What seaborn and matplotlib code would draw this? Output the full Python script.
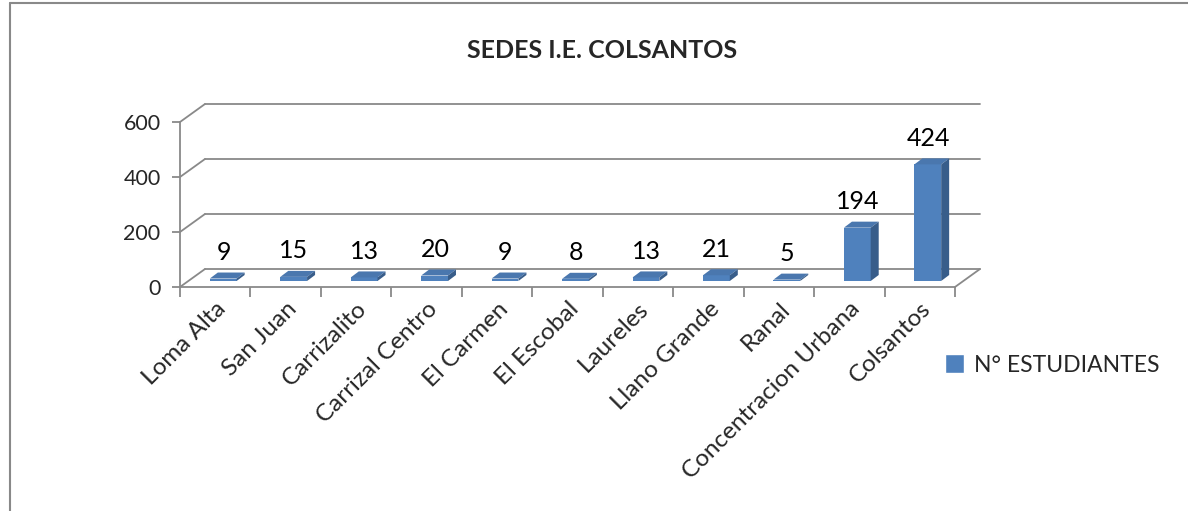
import matplotlib.pyplot as plt
import matplotlib.transforms as mtransforms
from matplotlib.patches import Polygon, Patch
import pandas as pd
import seaborn as sns

sns.set_style("white")
plt.rcParams["font.family"] = ["Lato", "DejaVu Sans"]

sedes = ["Loma Alta", "San Juan", "Carrizalito", "Carrizal Centro", "El Carmen",
         "El Escobal", "Laureles", "Llano Grande", "Ranal",
         "Concentracion Urbana", "Colsantos"]
estudiantes = [9, 15, 13, 20, 9, 8, 13, 21, 5, 194, 424]
y_ticks = [0, 200, 400, 600]
serie = "N° ESTUDIANTES"
titulo = "SEDES I.E. COLSANTOS"

df = pd.DataFrame({"sede": sedes, "n": estudiantes})

W, H = 1188, 511
fig = plt.figure(figsize=(W / 100, H / 100), dpi=100)
ax = fig.add_axes([180 / W, 1 - 287 / H, 775 / W, 165 / H])

front = "#4F81BD"
side = "#385D8A"
top = "#4A77AE"
grid = "#898989"

sns.barplot(data=df, x="sede", y="n", color=front, saturation=1, width=0.38, ax=ax)
ax.set_ylim(0, 600)
ax.set_xlim(-0.5, len(sedes) - 0.5)

# pixel offsets converted to data units for the fake 3D depth
px_x = len(sedes) / 775
px_y = 600 / 165
wall_dx, wall_dy = 25 * px_x, 18 * px_y
bar_dx, bar_dy = 8 * px_x, 6 * px_y

# back wall and left side wall
x0, x1 = -0.5, len(sedes) - 0.5
for g in y_ticks:
    ax.plot([x0 + wall_dx, x1 + wall_dx], [g + wall_dy, g + wall_dy],
            color=grid, lw=1.3, clip_on=False, zorder=0)
    ax.plot([x0, x0 + wall_dx], [g, g + wall_dy], color=grid, lw=1.3,
            clip_on=False, zorder=0)
# floor right edge
ax.plot([x1, x1 + wall_dx], [0, wall_dy], color=grid, lw=1.3, clip_on=False, zorder=0)

# bars: shift front face into depth and add top / side faces
shift = ax.transData + mtransforms.ScaledTranslation(8 / 100, 6 / 100, fig.dpi_scale_trans)
for p in list(ax.patches):
    p.set_transform(shift)
    p.set_clip_on(False)
    p.set_edgecolor("none")
    bx, bw, bh = p.get_x(), p.get_width(), p.get_height()
    top_face = Polygon([(bx, bh), (bx + bw, bh), (bx + bw + bar_dx, bh + bar_dy),
                        (bx + bar_dx, bh + bar_dy)], closed=True, facecolor=top,
                       edgecolor="none", transform=shift, clip_on=False, zorder=3)
    side_face = Polygon([(bx + bw, 0), (bx + bw + bar_dx, bar_dy),
                         (bx + bw + bar_dx, bh + bar_dy), (bx + bw, bh)], closed=True,
                        facecolor=side, edgecolor="none", transform=shift,
                        clip_on=False, zorder=3)
    ax.add_patch(top_face)
    ax.add_patch(side_face)

for i, v in enumerate(estudiantes):
    ax.annotate(str(v), (i, v), xytext=(6, 23), textcoords="offset points",
                ha="center", va="center", fontsize=18, color="black")

# axes styling
for s in ["top", "right"]:
    ax.spines[s].set_visible(False)
for s in ["left", "bottom"]:
    ax.spines[s].set_color(grid)
    ax.spines[s].set_linewidth(1.3)
ax.set_yticks(y_ticks)
ax.tick_params(axis="y", direction="out", length=6, width=1.3, color=grid,
               labelsize=15.5, pad=8, left=True)
ax.set_xticks([i - 0.5 for i in range(len(sedes) + 1)])
ax.set_xticklabels([])
ax.set_xticks(range(len(sedes)), minor=True)
ax.set_xticklabels(sedes, minor=True, rotation=45, ha="right",
                   rotation_mode="anchor", fontsize=17.5)
ax.tick_params(axis="x", which="major", direction="out", length=7, width=1.3,
               color=grid, bottom=True)
ax.tick_params(axis="x", which="minor", length=0, pad=8)
ax.set_xlabel("")
ax.set_ylabel("")
ax.patch.set_alpha(0)

fig.text(602 / W, 1 - 50 / H, titulo, ha="center", va="center",
         fontsize=18, fontweight="bold")

fig.legend(handles=[Patch(facecolor=front, label=serie)], loc="center left",
           bbox_to_anchor=(945 / W, 1 - 365 / H), frameon=False, fontsize=16.5,
           handlelength=0.85, handleheight=0.85, handletextpad=0.4,
           borderpad=0, borderaxespad=0)

# chart frame (left and top edges visible)
fig.add_artist(plt.Line2D([9.5 / W, 9.5 / W], [0, 1 - 3 / H], transform=fig.transFigure,
                          color=grid, lw=1.5))
fig.add_artist(plt.Line2D([9.5 / W, 1], [1 - 3 / H, 1 - 3 / H], transform=fig.transFigure,
                          color=grid, lw=1.5))

fig.savefig("out.png", dpi=100)
